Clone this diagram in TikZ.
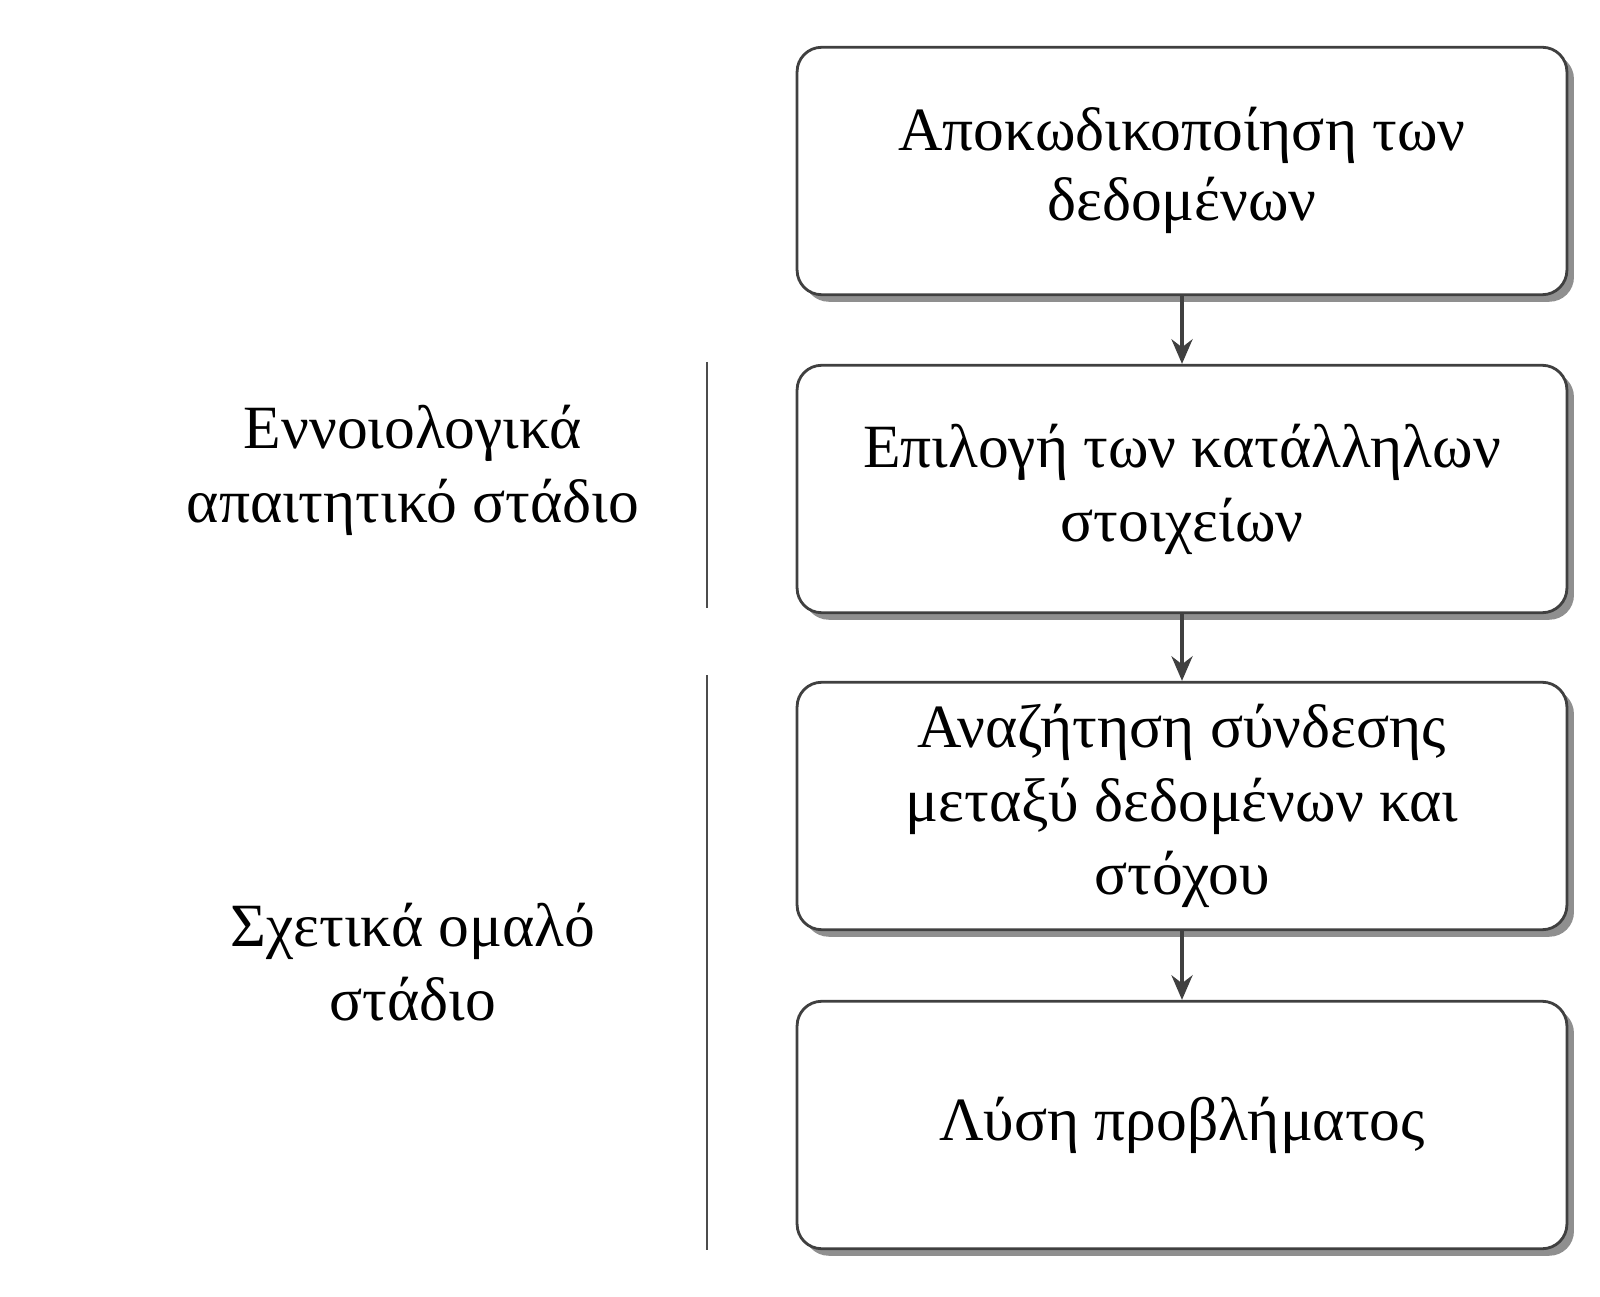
\documentclass[tikz,border=0pt]{standalone}
\usepackage{fontspec}
\setmainfont{Liberation Serif}
\usetikzlibrary{arrows.meta,shadows}
\begin{document}
\begin{tikzpicture}[x=0.02cm,y=-0.02cm,
  box/.style={draw=black!75,line width=1.6pt,rounded corners=14pt,fill=white,
    minimum width=15.4cm,minimum height=4.95cm,align=center,
    font=\fontsize{35}{42}\selectfont,
    drop shadow={shadow xshift=4pt,shadow yshift=-4pt,fill=black!55,opacity=0.8}},
  lbl/.style={align=center,font=\fontsize{35}{42}\selectfont},
  arr/.style={-{Stealth[length=14pt,width=12pt]},line width=2pt,draw=black!75}]
\useasboundingbox (0,0) rectangle (1600,1297);
\node[box] (b1) at (1182,171) {\raisebox{-8pt}{\begin{tabular}{c}Αποκωδικοποίηση των\\[-2pt]δεδομένων\end{tabular}}};
\node[box] (b2) at (1182,489) {Επιλογή των κατάλληλων\\στοιχείων};
\node[box] (b3) at (1182,806) {Αναζήτηση σύνδεσης\\μεταξύ δεδομένων και\\στόχου};
\node[box] (b4) at (1182,1125) {Λύση προβλήματος};
\draw[arr] (b1.south) -- (b2.north);
\draw[arr] (b2.south) -- (b3.north);
\draw[arr] (b3.south) -- (b4.north);
\coordinate (l1a) at (707,362); \coordinate (l1b) at (707,608);
\coordinate (l2a) at (707,675); \coordinate (l2b) at (707,1250);
\draw[line width=1.5pt,black!70] (l1a) -- (l1b);
\draw[line width=1.5pt,black!70] (l2a) -- (l2b);
\node[lbl] (t1) at (413,470) {Εννοιολογικά\\απαιτητικό στάδιο};
\node[lbl] (t2) at (413,962) {Σχετικά ομαλό\\στάδιο};
\end{tikzpicture}
\end{document}
